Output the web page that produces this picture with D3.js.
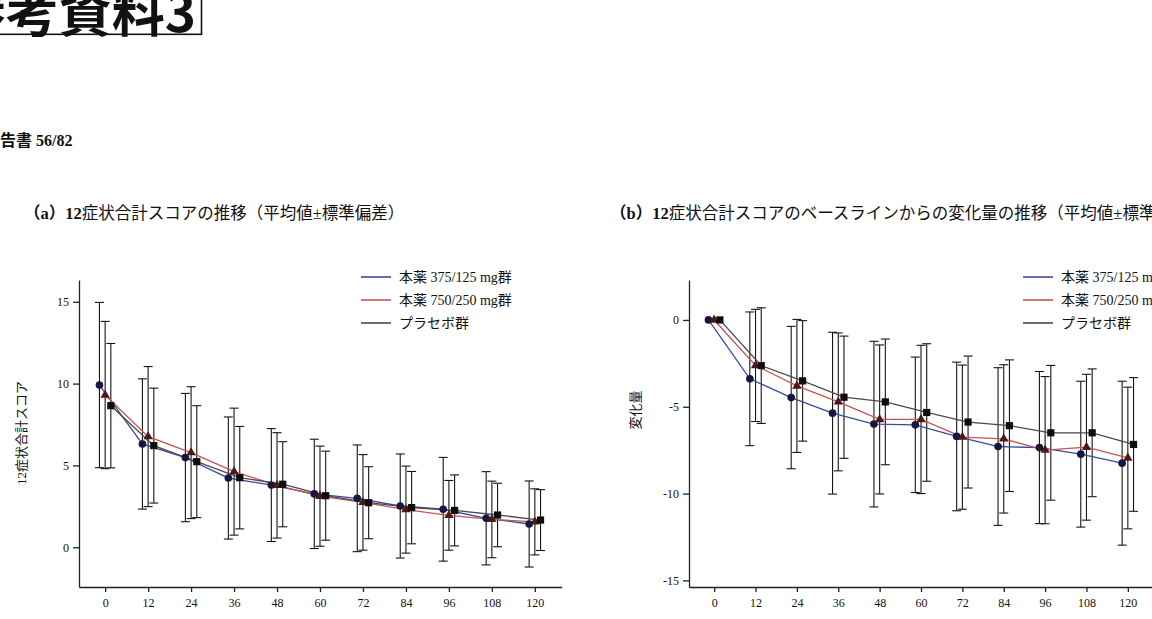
<!DOCTYPE html>
<html lang="ja">
<head>
<meta charset="utf-8">
<script src="https://cdn.jsdelivr.net/npm/d3@7"></script>
<style>
  body { margin: 0; background: #fff; }
  svg { display: block; }
  text { font-family: "Liberation Serif", "Noto Sans CJK JP", serif; fill: #111; }
</style>
</head>
<body>
<svg id="chart" width="1152" height="619"></svg>
<script>
// 評価時点（週）
let weeks = [0, 12, 24, 36, 48, 60, 72, 84, 96, 108, 120];
let groups = ["本薬 375/125 mg群", "本薬 750/250 mg群", "プラセボ群"];

// (a) 12症状合計スコア（平均値・標準偏差）
let scoreLowMean  = [9.91, 6.31, 5.48, 4.23, 3.80, 3.26, 2.99, 2.52, 2.32, 1.77, 1.42];
let scoreLowSd    = [5.05, 3.98, 3.92, 3.73, 3.45, 3.34, 3.26, 3.18, 3.17, 2.85, 2.63];
let scoreHighMean = [9.30, 6.76, 5.78, 4.62, 3.78, 3.12, 2.74, 2.30, 1.95, 1.70, 1.55];
let scoreHighSd   = [4.50, 4.28, 4.03, 3.88, 3.22, 3.06, 2.92, 2.66, 2.13, 2.34, 2.02];
let scorePlaMean  = [8.65, 6.21, 5.23, 4.25, 3.85, 3.15, 2.72, 2.42, 2.25, 1.97, 1.66];
let scorePlaSd    = [3.80, 3.51, 3.42, 3.13, 2.60, 2.72, 2.20, 2.21, 2.17, 1.94, 1.86];

// (b) ベースラインからの変化量（平均値・標準偏差）
let changeLowMean  = [0, -3.39, -4.47, -5.37, -6.00, -6.04, -6.71, -7.29, -7.35, -7.73, -8.25];
let changeLowSd    = [0, 3.85, 4.10, 4.66, 4.77, 3.90, 4.28, 4.54, 4.38, 4.20, 4.72];
let changeHighMean = [0, -2.62, -3.80, -4.72, -5.73, -5.73, -6.75, -6.85, -7.50, -7.33, -7.95];
let changeHighSd   = [0, 3.23, 3.83, 3.97, 4.29, 4.27, 4.15, 4.27, 4.24, 4.20, 4.08];
let changePlaMean  = [0, -2.63, -3.51, -4.45, -4.72, -5.33, -5.88, -6.09, -6.50, -6.50, -7.17];
let changePlaSd    = [0, 3.33, 3.47, 3.52, 3.62, 3.96, 3.80, 3.79, 3.88, 3.68, 3.85];

// 目盛り
let scoreTicks = [0, 5, 10, 15];
let changeTicks = [-15, -10, -5, 0];

// 群ごとの見た目
let lineColors = ["#3b4b9b", "#c85350", "#4a4a4a"];
let markerColors = ["#15173f", "#4f1717", "#0d0d0d"];
let markerShapes = [d3.symbolCircle, d3.symbolTriangle, d3.symbolSquare];
let markerSizes = [46, 38, 52];
let dodge = [-5.7, 0, 5.7];

let svg = d3.select("#chart");

// 見出し（左上で切れている）
svg.append("text")
  .attr("x", 196).attr("y", 32)
  .attr("text-anchor", "end")
  .style("font-family", "'Noto Sans CJK JP', sans-serif")
  .style("font-weight", "bold")
  .style("font-size", "53px")
  .text("参考資料3");
svg.append("rect")
  .attr("x", -10).attr("y", -10)
  .attr("width", 211.5).attr("height", 44.3)
  .attr("fill", "none").attr("stroke", "#111").attr("stroke-width", 1.6);

svg.append("text")
  .attr("x", -16).attr("y", 146)
  .style("font-size", "16px").style("font-weight", "bold")
  .text("報告書 56/82");

function drawPanel(p) {
  let x = d3.scaleLinear().domain([-7.3, 127.5]).range([p.left, p.right]);
  let y = d3.scaleLinear().domain(p.yDomain).range([587, 280]);
  let g = svg.append("g");

  // タイトル
  let t = g.append("text").attr("x", p.titleX).attr("y", 219).style("font-size", "16.5px");
  t.append("tspan").style("font-weight", "bold").text(p.titleBold);
  t.append("tspan").text(p.title);

  // 軸
  let xAxis = g.append("g")
    .attr("transform", "translate(0,587)")
    .call(d3.axisBottom(x).tickValues(weeks).tickSize(5).tickPadding(6)
      .tickSizeOuter(0).tickFormat(d => String(d)));
  let yAxis = g.append("g")
    .attr("transform", `translate(${p.left},0)`)
    .call(d3.axisLeft(y).tickValues(p.yTicks).tickSize(6).tickPadding(4)
      .tickSizeOuter(0).tickFormat(d => String(d)));
  [xAxis, yAxis].forEach(a => {
    a.selectAll("path, line").attr("stroke", "#222").attr("stroke-width", 1.3);
    a.selectAll("text").style("font-size", "12px")
      .style("font-family", "'Liberation Serif', serif").attr("fill", "#222");
  });

  // 縦軸ラベル
  g.append("text")
    .attr("transform", `translate(${p.yLabelX},${p.yLabelY}) rotate(-90)`)
    .attr("text-anchor", "middle")
    .attr("dy", "0.35em")
    .style("font-size", "13px")
    .text(p.yLabel);

  // 誤差棒
  p.means.forEach((m, i) => {
    let sd = p.sds[i];
    let bars = g.append("g").attr("stroke", "#151515").attr("stroke-width", 1.1);
    weeks.forEach((w, j) => {
      if (sd[j] <= 0) return;
      let cx = x(w) + dodge[i];
      let top = y(m[j] + sd[j]);
      let bot = y(m[j] - sd[j]);
      bars.append("line").attr("x1", cx).attr("x2", cx).attr("y1", top).attr("y2", bot);
      bars.append("line").attr("x1", cx - 4.5).attr("x2", cx + 4.5).attr("y1", top).attr("y2", top);
      bars.append("line").attr("x1", cx - 4.5).attr("x2", cx + 4.5).attr("y1", bot).attr("y2", bot);
    });
  });

  // 折れ線
  p.means.forEach((m, i) => {
    let line = d3.line()
      .x((d, j) => x(weeks[j]) + dodge[i])
      .y(d => y(d));
    g.append("path")
      .datum(m)
      .attr("d", line)
      .attr("fill", "none")
      .attr("stroke", lineColors[i])
      .attr("stroke-width", 1.3);
  });

  // マーカー
  p.means.forEach((m, i) => {
    g.selectAll(null)
      .data(m)
      .enter()
      .append("path")
      .attr("transform", (d, j) => `translate(${x(weeks[j]) + dodge[i]},${y(d)})`)
      .attr("d", d3.symbol().type(markerShapes[i]).size(markerSizes[i]))
      .attr("fill", markerColors[i]);
  });

  // 凡例
  groups.forEach((name, i) => {
    let ly = 277 + i * 23;
    g.append("line")
      .attr("x1", p.legendX).attr("x2", p.legendX + 30)
      .attr("y1", ly).attr("y2", ly)
      .attr("stroke", lineColors[i]).attr("stroke-width", 1.6);
    g.append("text")
      .attr("x", p.legendX + 38).attr("y", ly)
      .attr("dy", "0.35em")
      .style("font-size", "14px")
      .text(name);
  });
}

drawPanel({
  left: 79, right: 561.7,
  yDomain: [-2.43, 16.33], yTicks: scoreTicks,
  means: [scoreLowMean, scoreHighMean, scorePlaMean],
  sds: [scoreLowSd, scoreHighSd, scorePlaSd],
  titleX: 24, titleBold: "（a）12", title: "症状合計スコアの推移（平均値±標準偏差）",
  yLabel: "12症状合計スコア", yLabelX: 21, yLabelY: 433,
  legendX: 361
});

drawPanel({
  left: 689, right: 1153.7,
  yDomain: [-15.38, 2.3], yTicks: changeTicks,
  means: [changeLowMean, changeHighMean, changePlaMean],
  sds: [changeLowSd, changeHighSd, changePlaSd],
  titleX: 610, titleBold: "（b）12", title: "症状合計スコアのベースラインからの変化量の推移（平均値±標準偏差）",
  yLabel: "変化量", yLabelX: 635, yLabelY: 410,
  legendX: 1023
});
</script>
</body>
</html>
